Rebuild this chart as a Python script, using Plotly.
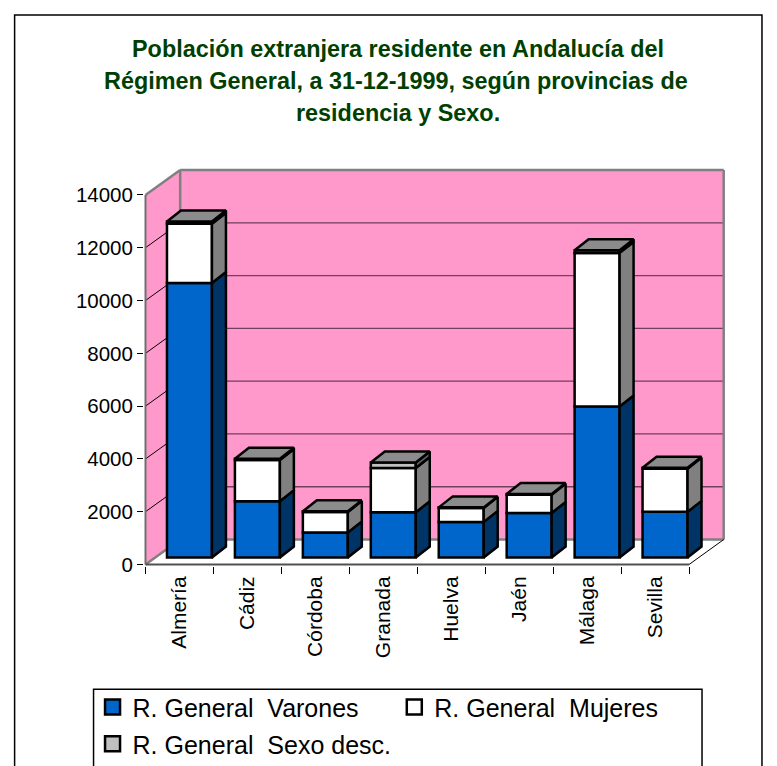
import plotly.graph_objects as go

categories = ["Almería", "Cádiz", "Córdoba", "Granada", "Huelva", "Jaén", "Málaga", "Sevilla"]
varones = [10400, 2130, 950, 1715, 1350, 1690, 5720, 1730]
mujeres = [2240, 1560, 770, 1675, 525, 690, 5820, 1635]
sexo_desc = [90, 50, 30, 210, 25, 30, 100, 35]
series_names = ["R. General  Varones", "R. General  Mujeres", "R. General  Sexo desc."]
y_ticks = [0, 2000, 4000, 6000, 8000, 10000, 12000, 14000]
title_lines = ["Población extranjera residente en Andalucía del",
               "Régimen General, a 31-12-1999, según provincias de",
               "residencia y Sexo."]

W, H = 777, 766
PAD = 1.5
L0, B0 = 145, 565              # pixel of x = 0 and of value 0
L, R, B, T = L0 - PAD, 727, B0 + PAD, 167.5   # plot-area edges
CAT_PX = 68.0
VAL_PX = 370.5 / 14000

def px_x(p): return (p - L0) / CAT_PX
def px_y(p): return (B0 - p) / VAL_PX
def pap_x(p): return (p - L) / (R - L)
def pap_y(p): return (B - p) / (B - T)

WALL_DX, WALL_DY = 34.7 / CAT_PX, 25 / VAL_PX
BAR_LEFT, BAR_W = 21.5 / CAT_PX, 45 / CAT_PX
BAR_LIFT = 7 / VAL_PX
BAR_DX, BAR_DY = 14 / CAT_PX, 11 / VAL_PX
N = len(categories)
TOP = 14000
colors = ["#0066CC", "#FFFFFF", "#C0C0C0"]
side_colors = ["#003366", "#808080", "#606060"]
top_color = "#8C8C8C"
EDGE = "#000000"
GRAY = "#808080"
PINK = "#FF99CC"

def poly(pts):
    return "M" + " L".join(f"{x},{y}" for x, y in pts) + " Z"

def line(x0, y0, x1, y1, color, width):
    return dict(type="line", x0=x0, y0=y0, x1=x1, y1=y1, xref="x", yref="y",
                layer="below", line=dict(color=color, width=width))

shapes = [
    dict(type="rect", xref="paper", yref="paper", x0=pap_x(14), x1=pap_x(762), y0=pap_y(800), y1=pap_y(14),
         layer="below", line=dict(color="#000000", width=1.5), fillcolor="#FFFFFF"),
    dict(type="rect", xref="paper", yref="paper", x0=pap_x(93), x1=pap_x(702), y0=pap_y(800), y1=pap_y(690),
         layer="below", line=dict(color="#000000", width=1.5), fillcolor="#FFFFFF"),
    dict(type="path", xref="x", yref="y", layer="below", fillcolor=PINK, line=dict(width=0),
         path=poly([(0, 0), (WALL_DX, WALL_DY), (WALL_DX, TOP + WALL_DY), (0, TOP)])),
    dict(type="rect", xref="x", yref="y", layer="below", fillcolor=PINK, line=dict(width=0),
         x0=WALL_DX, x1=N + WALL_DX, y0=WALL_DY, y1=TOP + WALL_DY),
]
for v in y_ticks[1:-1]:
    shapes.append(line(0, v, WALL_DX, v + WALL_DY, "#000000", 1))
    shapes.append(line(WALL_DX, v + WALL_DY, N + WALL_DX, v + WALL_DY, "#70405C", 1.3))
shapes += [
    line(0, 0, WALL_DX, WALL_DY, GRAY, 2.5),
    line(WALL_DX, WALL_DY, N + WALL_DX, WALL_DY, GRAY, 2.5),
    line(WALL_DX, WALL_DY, WALL_DX, TOP + WALL_DY, GRAY, 2.5),
    line(N + WALL_DX, WALL_DY, N + WALL_DX, TOP + WALL_DY, GRAY, 2.5),
    line(WALL_DX, TOP + WALL_DY, N + WALL_DX, TOP + WALL_DY, GRAY, 2.5),
    line(0, TOP, WALL_DX, TOP + WALL_DY, GRAY, 2.5),
    line(0, 0, 0, TOP, "#707070", 2),
    line(N, 0, N + WALL_DX, WALL_DY, "#000000", 1),
    line(0, 0, N, 0, "#505050", 2),
]

fig = go.Figure()
stacks = [varones, mujeres, sexo_desc]
centers = [i + 0.5 for i in range(N)]
legend_ids = ["legend", "legend2", "legend3"]
cum = [0] * N
faces = []
for s, vals in enumerate(stacks):
    fig.add_trace(go.Bar(
        x=centers, y=vals, base=[c + BAR_LIFT for c in cum], name=series_names[s],
        width=BAR_W, offset=BAR_LEFT - 0.5, showlegend=False,
        marker=dict(color=colors[s], line=dict(color=EDGE, width=2.5)), hoverinfo="skip"))
    xs, ys = [], []
    for i in range(N):
        xr = i + BAR_LEFT + BAR_W
        lo = cum[i] + BAR_LIFT
        hi = lo + vals[i]
        xs += [xr, xr + BAR_DX, xr + BAR_DX, xr, xr, None]
        ys += [lo, lo + BAR_DY, hi + BAR_DY, hi, lo, None]
    faces.append((xs, ys, side_colors[s]))
    cum = [c + v for c, v in zip(cum, vals)]
xs, ys = [], []
for i in range(N):
    xl = i + BAR_LEFT
    xr = xl + BAR_W
    hi = cum[i] + BAR_LIFT
    xs += [xl, xr, xr + BAR_DX, xl + BAR_DX, xl, None]
    ys += [hi, hi, hi + BAR_DY, hi + BAR_DY, hi, None]
faces.append((xs, ys, top_color))
for xs, ys, c in faces:
    fig.add_trace(go.Scatter(x=xs, y=ys, mode="lines", fill="toself", fillcolor=c,
                             line=dict(color=EDGE, width=2.5), showlegend=False, hoverinfo="skip"))
for s in range(3):
    fig.add_trace(go.Scatter(x=[None], y=[None], mode="markers", name=series_names[s], legend=legend_ids[s],
                             marker=dict(symbol="square", size=15, color=colors[s],
                                         line=dict(color=EDGE, width=2.5))))

FONT = "Liberation Sans, Arial, sans-serif"
annotations = [dict(text=t, xref="paper", yref="paper", x=pap_x(x), y=pap_y(y), showarrow=False,
                    xanchor="center", yanchor="middle",
                    font=dict(family=FONT, size=23.4, color="#003F00", weight="bold"))
               for t, x, y in zip(title_lines, [397.5, 395.5, 397.5], [48.5, 80.5, 112.5])]

def legend_cfg(x, y):
    return dict(x=pap_x(x), y=pap_y(y), xanchor="left", yanchor="middle", bgcolor="rgba(0,0,0,0)",
                font=dict(family=FONT, size=25, color="#000000"), borderwidth=0)

fig.update_layout(
    width=W, height=H, autosize=False,
    margin=dict(l=L, r=W - R, t=T, b=H - B, pad=0, autoexpand=False),
    paper_bgcolor="#FFFFFF", plot_bgcolor="#FFFFFF",
    barmode="overlay", showlegend=True, shapes=shapes, annotations=annotations,
    legend=legend_cfg(92, 708), legend2=legend_cfg(394, 708), legend3=legend_cfg(92, 745),
    xaxis=dict(range=[px_x(L), px_x(R)], showgrid=False, zeroline=False, showline=False,
               tickmode="array", tickvals=centers, ticktext=categories, tickangle=-90,
               ticks="outside", ticklen=1, tickcolor="rgba(0,0,0,0)",
               tickfont=dict(family=FONT, size=21, color="#000000"),
               minor=dict(tickmode="array", tickvals=list(range(N + 1)), ticks="outside", ticklen=7,
                          tickcolor="#000000", tickwidth=1, showgrid=False)),
    yaxis=dict(range=[px_y(B), px_y(T)], showgrid=False, zeroline=False, showline=False,
               tickmode="array", tickvals=y_ticks, ticktext=[str(v) for v in y_ticks],
               ticks="outside", ticklen=6, tickcolor="#000000", tickwidth=1,
               tickfont=dict(family=FONT, size=20.5, color="#000000")),
)
fig.write_html("out.html", config=dict(displayModeBar=False),
               post_script="document.body.style.margin='0';document.documentElement.style.overflow='hidden';")
